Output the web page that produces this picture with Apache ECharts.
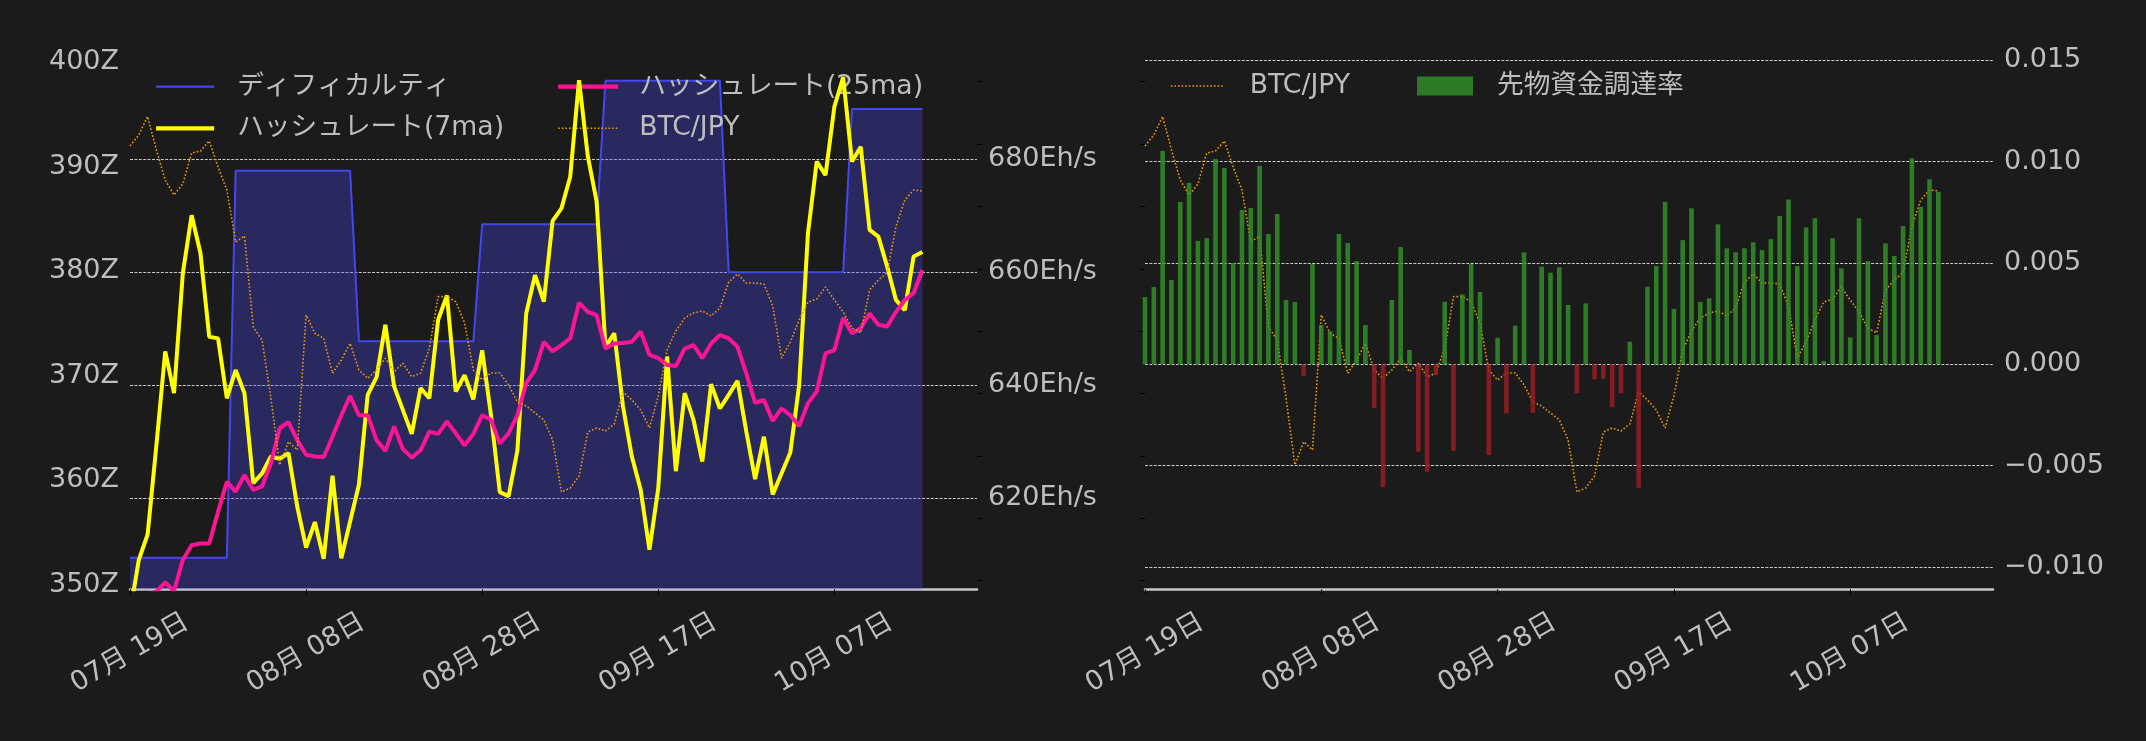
<!DOCTYPE html>
<html><head><meta charset="utf-8">
<script src="https://cdn.jsdelivr.net/npm/echarts@6.0.0/dist/echarts.min.js"></script>
<style>html,body{margin:0;padding:0;background:#1b1b1b;}#c{width:2146px;height:741px;}</style>
</head><body><div id="c"></div>
<script>
const dates = [
'2024-07-19','2024-07-20','2024-07-21','2024-07-22','2024-07-23','2024-07-24','2024-07-25','2024-07-26','2024-07-27','2024-07-28','2024-07-29','2024-07-30','2024-07-31',
'2024-08-01','2024-08-02','2024-08-03','2024-08-04','2024-08-05','2024-08-06','2024-08-07','2024-08-08','2024-08-09','2024-08-10','2024-08-11','2024-08-12','2024-08-13','2024-08-14','2024-08-15','2024-08-16','2024-08-17','2024-08-18','2024-08-19','2024-08-20','2024-08-21','2024-08-22','2024-08-23','2024-08-24','2024-08-25','2024-08-26','2024-08-27','2024-08-28','2024-08-29','2024-08-30','2024-08-31',
'2024-09-01','2024-09-02','2024-09-03','2024-09-04','2024-09-05','2024-09-06','2024-09-07','2024-09-08','2024-09-09','2024-09-10','2024-09-11','2024-09-12','2024-09-13','2024-09-14','2024-09-15','2024-09-16','2024-09-17','2024-09-18','2024-09-19','2024-09-20','2024-09-21','2024-09-22','2024-09-23','2024-09-24','2024-09-25','2024-09-26','2024-09-27','2024-09-28','2024-09-29','2024-09-30',
'2024-10-01','2024-10-02','2024-10-03','2024-10-04','2024-10-05','2024-10-06','2024-10-07','2024-10-08','2024-10-09','2024-10-10','2024-10-11','2024-10-12','2024-10-13','2024-10-14','2024-10-15','2024-10-16','2024-10-17'];

// difficulty (Z)
const difficultyZ = [
352.6,352.6,352.6,352.6,352.6,352.6,352.6,352.6,352.6,352.6,352.6,352.6,
389.6,389.6,389.6,389.6,389.6,389.6,389.6,389.6,389.6,389.6,389.6,389.6,389.6,389.6,
373.3,373.3,373.3,373.3,373.3,373.3,373.3,373.3,373.3,373.3,373.3,373.3,373.3,373.3,
384.5,384.5,384.5,384.5,384.5,384.5,384.5,384.5,384.5,384.5,384.5,384.5,384.5,384.5,
398.2,398.2,398.2,398.2,398.2,398.2,398.2,398.2,398.2,398.2,398.2,398.2,398.2,398.2,
379.9,379.9,379.9,379.9,379.9,379.9,379.9,379.9,379.9,379.9,379.9,379.9,379.9,379.9,
395.5,395.5,395.5,395.5,395.5,395.5,395.5,395.5,395.5];

// hashrate 7-day MA (Eh/s)
const hashrate7ma = [
599.7,609.1,613.6,629.4,646.0,638.6,659.8,670.1,663.4,648.6,648.3,637.7,642.7,638.6,622.7,624.4,627.4,627.0,628.0,618.5,
611.3,615.8,609.3,624.0,609.4,615.9,622.4,638.3,641.4,650.7,639.8,635.6,631.4,639.5,637.7,651.6,655.9,638.9,641.8,637.5,
646.2,634.7,621.1,620.4,628.5,652.7,659.5,654.8,669.1,671.3,676.9,694.0,680.5,672.5,646.8,649.2,636.2,627.4,621.5,610.9,
621.8,645.1,624.8,638.6,633.9,626.5,640.2,635.9,638.3,640.8,631.8,623.4,630.9,620.7,624.4,628.1,640.0,666.9,679.6,677.2,
689.3,694.5,679.6,682.2,667.5,666.3,661.0,655.1,653.3,662.8,663.6];

// hashrate 25-day MA (Eh/s)
const hashrate25ma = [
602.0,602.5,603.0,603.5,605.1,603.6,609.1,611.7,612.0,612.0,617.6,622.9,621.2,624.1,621.5,622.1,626.2,632.4,633.5,630.3,
627.7,627.4,627.3,630.9,634.7,638.1,634.7,634.7,630.3,628.4,632.7,628.7,627.2,628.5,631.8,631.4,633.6,631.5,629.4,631.4,
634.7,633.9,629.7,631.5,634.7,640.4,642.7,647.7,646.0,647.1,648.3,654.6,653.0,652.4,646.5,647.4,647.5,647.7,649.5,645.4,
644.8,643.6,643.4,646.5,647.1,644.8,647.4,648.9,648.3,646.8,642.1,636.9,637.4,633.7,635.9,634.7,632.8,636.8,638.9,645.7,
646.2,651.9,649.2,650.1,652.7,650.7,650.4,653.0,655.1,656.3,660.4];

// BTC/JPY (JPY)
const btcJpy = [
10485000,10573000,10721000,10453000,10212000,10092000,10180000,10428000,10444000,10525000,10316000,10132000,9715000,9763000,9034000,8929000,8465000,7928000,8114000,8048000,
9130000,8983000,8943000,8663000,8769000,8903000,8689000,8622000,8689000,8783000,8675000,8743000,8635000,8663000,8863000,9277000,9277000,9236000,9066000,8689000,
8609000,8665000,8665000,8569000,8432000,8400000,8344000,8288000,8128000,7711000,7743000,7839000,8192000,8224000,8200000,8256000,8513000,8449000,8369000,8224000,
8481000,8849000,9002000,9106000,9146000,9162000,9122000,9186000,9394000,9458000,9386000,9386000,9378000,9202000,8785000,8913000,9090000,9234000,9258000,9354000,
9250000,9154000,9026000,8986000,9330000,9410000,9470000,9840000,10051000,10132000,10124000];

// futures funding rate
const fundingRate = [
0.00332,0.00382,0.01053,0.00416,0.00801,0.00895,0.00609,0.00623,0.01013,0.00969,0.00500,0.00762,0.00772,0.00979,0.00643,0.00742,0.00318,0.00308,-0.00058,0.00495,
0.00194,0.00164,0.00643,0.00599,0.00510,0.00194,-0.00216,-0.00606,0.00318,0.00579,0.00071,-0.00431,-0.00530,-0.00053,0.00309,-0.00426,0.00345,0.00495,0.00357,-0.00448,
0.00131,-0.00242,0.00191,0.00553,-0.00239,0.00482,0.00452,0.00479,0.00293,-0.00143,0.00301,-0.00074,-0.00071,-0.00212,-0.00143,0.00112,-0.00609,0.00383,0.00485,0.00803,
0.00273,0.00613,0.00770,0.00308,0.00326,0.00692,0.00573,0.00553,0.00573,0.00602,0.00564,0.00618,0.00732,0.00814,0.00485,0.00676,0.00721,0.00016,0.00622,0.00474,
0.00133,0.00721,0.00510,0.00145,0.00597,0.00535,0.00683,0.01017,0.00778,0.00913,0.00852];

// tick values
const xTickDates = ['2024-07-19','2024-08-08','2024-08-28','2024-09-17','2024-10-07'];
const zTicks = [350,360,370,380,390,400];
const ehTicks = [620,640,660,680];
const frTicks = [-0.010,-0.005,0.000,0.005,0.010,0.015];
const btcTicks = [7000000,7500000,8000000,8500000,9000000,9500000,10000000,10500000,11000000];

const FONT = '"DejaVu Sans","Noto Sans CJK JP",sans-serif';
const TXT = '#bebebe';
const GRIDC = '#c8c8c8';
const C_DIFF = '#4646f0', C_7 = '#ffff00', C_25 = '#ff1493', C_BTC = '#eb9a0a';
const T0 = Date.parse(dates[0]);
const dayOf = s => (Date.parse(s) - T0) / 86400000;
const xs = dates.map(dayOf);
const pair = arr => arr.map((v, i) => [xs[i], v]);
const pad2 = n => String(n).padStart(2, '0');
const fmtDate = v => { const t = new Date(T0 + Math.round(v) * 86400000); return pad2(t.getUTCMonth() + 1) + '月 ' + pad2(t.getUTCDate()) + '日'; };
const xTicks = xTickDates.map(dayOf);
const X_MAX = 96.2;

function xAx(gi) {
  return {
    type: 'value', gridIndex: gi, position: 'bottom', min: 0, max: X_MAX,
    axisLine: { show: true, onZero: false, lineStyle: { color: GRIDC, width: 2.5 } },
    axisTick: { show: true, customValues: xTicks, length: 5, lineStyle: { color: '#000', width: 1 } },
    axisLabel: { customValues: xTicks, formatter: fmtDate, rotate: 30, align: 'center', verticalAlign: 'middle',
      margin: 64, color: TXT, fontSize: 27, fontFamily: FONT },
    splitLine: { show: false }
  };
}
const labelBase = { color: TXT, fontSize: 27, fontFamily: FONT, margin: 11 };
const gridLine = { show: true, showMinLine: false, showMaxLine: false, lineStyle: { color: GRIDC, width: 1, type: [3, 1.4] } };
const frFmt = v => { const r = Math.round(v * 1000) / 1000; if (r === 0) return '0.000'; return (r < 0 ? '\u2212' : '') + Math.abs(r).toFixed(3); };
const legendText = pad => ({ color: TXT, fontSize: 26.7, fontFamily: FONT, lineHeight: 30, padding: [0, 0, 0, pad] });
const BTC_LS = { color: C_BTC, width: 1.6, type: [1.6, 2] };

const option = {
  backgroundColor: '#1b1b1b',
  animation: false,
  grid: [
    { left: 130, top: 48.5, width: 847, height: 540.8, containLabel: false, outerBoundsMode: 'none' },
    { left: 1145, top: 48.5, width: 848, height: 540.8, containLabel: false, outerBoundsMode: 'none' }
  ],
  xAxis: [xAx(0), xAx(1)],
  yAxis: [
    { type: 'value', gridIndex: 0, position: 'left', min: 349.59, max: 401.29, scale: true,
      axisLine: { show: false }, axisTick: { show: false }, splitLine: { show: false },
      axisLabel: Object.assign({ customValues: zTicks, formatter: v => Math.round(v) + 'Z' }, labelBase) },
    { type: 'value', gridIndex: 0, position: 'right', min: 603.9, max: 699.6, scale: true, splitNumber: 5,
      axisLine: { show: false }, axisTick: { show: false }, splitLine: gridLine,
      axisLabel: Object.assign({ customValues: ehTicks, formatter: v => Math.round(v) + 'Eh/s' }, labelBase) },
    { type: 'value', gridIndex: 0, position: 'right', min: 6931000, max: 11266000, scale: true,
      axisLine: { show: false }, axisTick: { show: true, customValues: btcTicks, length: 5, lineStyle: { color: '#000' } },
      axisLabel: { show: false }, splitLine: { show: false } },
    { type: 'value', gridIndex: 1, position: 'right', min: -0.0111, max: 0.015587, splitNumber: 5,
      axisLine: { show: false }, axisTick: { show: false }, splitLine: gridLine,
      axisLabel: Object.assign({ customValues: frTicks, formatter: frFmt }, labelBase) },
    { type: 'value', gridIndex: 1, position: 'left', min: 6931000, max: 11266000, scale: true,
      axisLine: { show: false }, axisTick: { show: true, customValues: btcTicks, length: 5, lineStyle: { color: '#000' } },
      axisLabel: { show: false }, splitLine: { show: false } }
  ],
  legend: [
    { left: 154, top: 71.7, padding: 0, orient: 'vertical', itemWidth: 58, itemHeight: 14, itemGap: 11.6, z: 3,
      itemStyle: { opacity: 0 },
      data: [
        { name: 'ディフィカルティ', lineStyle: { color: C_DIFF, width: 2.2 } },
        { name: 'ハッシュレート(7ma)', lineStyle: { color: C_7, width: 4.3 } }
      ], textStyle: legendText(18) },
    { left: 556, top: 71.7, padding: 0, orient: 'vertical', itemWidth: 60, itemHeight: 14, itemGap: 11.6, z: 3,
      itemStyle: { opacity: 0 },
      data: [
        { name: 'ハッシュレート(25ma)', lineStyle: { color: C_25, width: 4.3 } },
        { name: 'BTC/JPY', lineStyle: BTC_LS }
      ], textStyle: legendText(16) },
    { left: 1170, top: 71, padding: 0, itemWidth: 54, itemHeight: 14, z: 3,
      itemStyle: { opacity: 0 },
      data: [{ name: 'BTC/JPY', lineStyle: BTC_LS }], textStyle: legendText(20) },
    { left: 1417, top: 71, padding: 0, itemWidth: 56, itemHeight: 19, z: 3, icon: 'rect',
      data: [{ name: '先物資金調達率', itemStyle: { color: '#2d7a26', opacity: 1 } }], textStyle: legendText(19) }
  ],
  series: [
    { name: 'ディフィカルティ', type: 'line', xAxisIndex: 0, yAxisIndex: 0, data: pair(difficultyZ), symbol: 'none', z: 2,
      lineStyle: { color: C_DIFF, width: 2 }, itemStyle: { color: C_DIFF },
      areaStyle: { color: 'rgba(70,70,240,0.32)', opacity: 1, origin: 'start' } },
    { name: 'ハッシュレート(7ma)', type: 'line', xAxisIndex: 0, yAxisIndex: 1, data: pair(hashrate7ma), symbol: 'none', z: 4,
      lineStyle: { color: C_7, width: 4 }, itemStyle: { color: C_7 } },
    { name: 'ハッシュレート(25ma)', type: 'line', xAxisIndex: 0, yAxisIndex: 1, data: pair(hashrate25ma), symbol: 'none', z: 4,
      lineStyle: { color: C_25, width: 4 }, itemStyle: { color: C_25 } },
    { name: 'BTC/JPY', type: 'line', xAxisIndex: 0, yAxisIndex: 2, data: pair(btcJpy), symbol: 'none', z: 4,
      lineStyle: BTC_LS, itemStyle: { color: C_BTC } },
    { name: 'BTC/JPY', type: 'line', xAxisIndex: 1, yAxisIndex: 4, data: pair(btcJpy), symbol: 'none', z: 2,
      lineStyle: BTC_LS, itemStyle: { color: C_BTC } },
    { name: '先物資金調達率', type: 'bar', xAxisIndex: 1, yAxisIndex: 3, barWidth: 4.6, z: 3,
      itemStyle: { color: '#33922a', opacity: 0.82 },
      data: fundingRate.map((v, i) => ({ value: [xs[i], v], itemStyle: { color: v < 0 ? '#9c1f25' : '#33922a', opacity: 0.82 } })) }
  ]
};
const chart = echarts.init(document.getElementById('c'), null, { renderer: 'canvas' });
chart.setOption(option);
</script>
</body></html>
